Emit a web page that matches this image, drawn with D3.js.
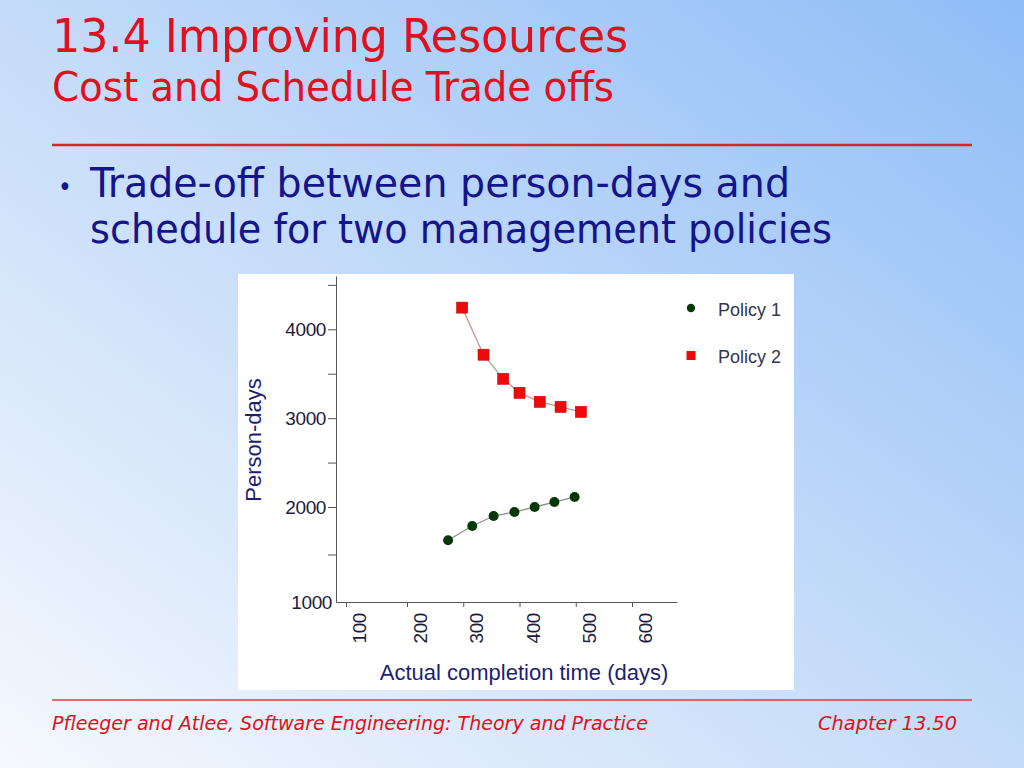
<!DOCTYPE html>
<html lang="en">
<head>
<meta charset="utf-8">
<title>Cost and Schedule Trade offs</title>
<script src="https://d3js.org/d3.v7.min.js"></script>
<style>
  html, body { margin: 0; padding: 0; }
  svg { display: block; }
  .slide { font-family: "DejaVu Sans Condensed", "DejaVu Sans", sans-serif; font-stretch: condensed; }
  .chart text { font-family: "Liberation Sans", Arial, sans-serif; }
</style>
</head>
<body>
<script>
// data
var policyNames = ["Policy 1", "Policy 2"];
var policy1Days = [273, 316, 354, 391, 427, 462, 498];
var policy1PersonDays = [1650, 1800, 1905, 1947, 2000, 2056, 2113];
var policy2Days = [298, 336, 371, 400, 436, 473, 509];
var policy2PersonDays = [4244, 3714, 3443, 3285, 3184, 3127, 3071];
var xTickValues = [100, 200, 300, 400, 500, 600];
var yTickValues = [1000, 1500, 2000, 2500, 3000, 3500, 4000, 4500];

var W = 1024, H = 768;

var svg = d3.select("body").append("svg")
  .attr("width", W).attr("height", H);

// slide background
var defs = svg.append("defs");
var grad = defs.append("linearGradient")
  .attr("id", "bg").attr("x1", 0).attr("y1", 1).attr("x2", 1).attr("y2", 0);
grad.append("stop").attr("offset", "0%").attr("stop-color", "#f6f9fe");
grad.append("stop").attr("offset", "50%").attr("stop-color", "#c4dbf9");
grad.append("stop").attr("offset", "100%").attr("stop-color", "#8ebdf7");
svg.append("rect").attr("width", W).attr("height", H).attr("fill", "url(#bg)");

var slide = svg.append("g").attr("class", "slide");

slide.append("text").attr("x", 52).attr("y", 52)
  .attr("font-size", 47).attr("fill", "#e0101c")
  .attr("textLength", 576).attr("lengthAdjust", "spacingAndGlyphs")
  .text("13.4 Improving Resources");
slide.append("text").attr("x", 52).attr("y", 101)
  .attr("font-size", 41).attr("fill", "#e0101c")
  .attr("textLength", 562).attr("lengthAdjust", "spacingAndGlyphs")
  .text("Cost and Schedule Trade offs");

slide.append("line").attr("x1", 52).attr("x2", 972).attr("y1", 145).attr("y2", 145)
  .attr("stroke", "#e0202a").attr("stroke-width", 2.5);

slide.append("text").attr("x", 58).attr("y", 196)
  .attr("font-size", 26).attr("fill", "#14148c").text("•");
slide.append("text").attr("x", 90).attr("y", 197)
  .attr("font-size", 41).attr("fill", "#14148c")
  .attr("textLength", 700).attr("lengthAdjust", "spacingAndGlyphs")
  .text("Trade-off between person-days and");
slide.append("text").attr("x", 90).attr("y", 243)
  .attr("font-size", 41).attr("fill", "#14148c")
  .attr("textLength", 742).attr("lengthAdjust", "spacingAndGlyphs")
  .text("schedule for two management policies");

// footer
slide.append("line").attr("x1", 52).attr("x2", 972).attr("y1", 700).attr("y2", 700)
  .attr("stroke", "#e03a40").attr("stroke-width", 1.5);
slide.append("text").attr("x", 52).attr("y", 730)
  .attr("font-size", 20).attr("font-style", "italic").attr("fill", "#e0101c")
  .attr("textLength", 596).attr("lengthAdjust", "spacingAndGlyphs")
  .text("Pfleeger and Atlee, Software Engineering: Theory and Practice");
slide.append("text").attr("x", 818).attr("y", 730)
  .attr("font-size", 20).attr("font-style", "italic").attr("fill", "#e0101c")
  .attr("textLength", 139).attr("lengthAdjust", "spacingAndGlyphs")
  .text("Chapter 13.50");

// chart picture
var chart = svg.append("g").attr("class", "chart");
chart.append("rect").attr("x", 238).attr("y", 274).attr("width", 556).attr("height", 416)
  .attr("fill", "#ffffff");

// the original axes are not quite even at the low end, so piecewise scales
var x = d3.scaleLinear().domain([84, 100, 200, 680]).range([336, 346, 407, 677]);
var y = d3.scaleLinear().domain([1000, 2000, 4600]).range([602, 507, 276]);

var axisColor = "#555555";
var tickText = "#1c1c3c";

var yAxis = chart.append("g")
  .attr("transform", "translate(" + x(84) + ",0)")
  .call(d3.axisLeft(y).tickValues(yTickValues).tickSize(8).tickSizeOuter(0)
    .tickFormat(function(d){ return d % 1000 === 0 ? d : ""; }));
yAxis.select(".domain").attr("stroke", axisColor);
yAxis.selectAll(".tick line").attr("stroke", axisColor);
yAxis.selectAll(".tick text").attr("font-size", 19).attr("fill", tickText)
  .attr("letter-spacing", -0.4).attr("x", -10);
yAxis.selectAll(".tick").filter(function(d){ return d === 1000; })
  .each(function(){
    d3.select(this).select("line").remove();
    d3.select(this).select("text").attr("x", -4);
  });

var xAxis = chart.append("g")
  .attr("transform", "translate(0," + y(1000) + ")")
  .call(d3.axisBottom(x).tickValues(xTickValues).tickSize(5).tickSizeOuter(0)
    .tickFormat(d3.format("d")));
xAxis.select(".domain").attr("stroke", axisColor);
xAxis.selectAll(".tick line").attr("stroke", axisColor);
xAxis.selectAll(".tick text")
  .attr("font-size", 19).attr("fill", tickText).attr("letter-spacing", -0.4)
  .attr("transform", "rotate(-90)")
  .attr("x", -11).attr("y", 13).attr("dy", "0.35em")
  .style("text-anchor", "end");

// axis titles
chart.append("text")
  .attr("transform", "translate(253,440) rotate(-90)")
  .attr("text-anchor", "middle").attr("dy", "0.35em")
  .attr("font-size", 22).attr("fill", "#1e1e6e")
  .text("Person-days");
chart.append("text")
  .attr("x", 524).attr("y", 672).attr("dy", "0.35em")
  .attr("text-anchor", "middle")
  .attr("font-size", 22).attr("fill", "#1e1e6e")
  .text("Actual completion time (days)");

// series
var p1 = policy1Days.map(function(d, i){ return [d, policy1PersonDays[i]]; });
var p2 = policy2Days.map(function(d, i){ return [d, policy2PersonDays[i]]; });

var line = d3.line()
  .x(function(d){ return x(d[0]); })
  .y(function(d){ return y(d[1]); });

chart.append("path").datum(p1).attr("d", line)
  .attr("fill", "none").attr("stroke", "#8c8c8c").attr("stroke-width", 1.3);
chart.append("path").datum(p2).attr("d", line)
  .attr("fill", "none").attr("stroke", "#c8968c").attr("stroke-width", 1.3);

chart.selectAll("circle.p1").data(p1).enter().append("circle")
  .attr("class", "p1")
  .attr("cx", function(d){ return x(d[0]); })
  .attr("cy", function(d){ return y(d[1]); })
  .attr("r", 5).attr("fill", "#063806");

var sq = 11;
chart.selectAll("rect.p2").data(p2).enter().append("rect")
  .attr("class", "p2")
  .attr("x", function(d){ return x(d[0]) - sq / 2; })
  .attr("y", function(d){ return y(d[1]) - sq / 2; })
  .attr("width", sq).attr("height", sq)
  .attr("fill", "#ee0a0a").attr("stroke", "#c80000").attr("stroke-width", 0.6);

// legend
var legend = chart.append("g");
legend.append("circle").attr("cx", 691).attr("cy", 308).attr("r", 4.2).attr("fill", "#063806");
legend.append("rect").attr("x", 686.5).attr("y", 351).attr("width", 9).attr("height", 9)
  .attr("fill", "#ee0a0a");
legend.selectAll("text").data(policyNames).enter().append("text")
  .attr("x", 718)
  .attr("y", function(d, i){ return 310 + i * 47; })
  .attr("dy", "0.35em")
  .attr("font-size", 18).attr("fill", "#34344e")
  .text(function(d){ return d; });
</script>
</body>
</html>
